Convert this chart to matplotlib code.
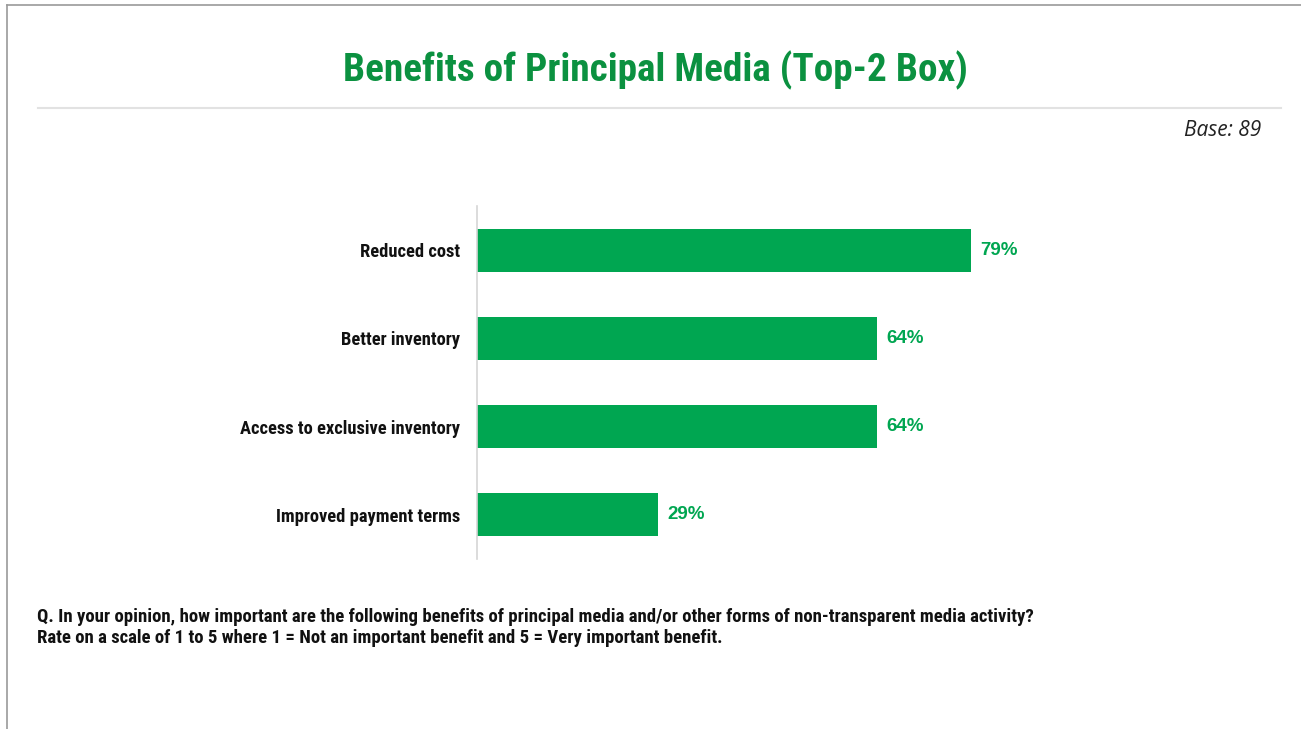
import matplotlib.pyplot as plt
from matplotlib import font_manager
from matplotlib.lines import Line2D

# Survey results
categories = ['Reduced cost', 'Better inventory', 'Access to exclusive inventory', 'Improved payment terms']
values = [79, 64, 64, 29]
title = 'Benefits of Principal Media (Top-2 Box)'
base_note = 'Base: 89'
question_lines = [
    'Q. In your opinion, how important are the following benefits of principal media and/or other forms of non-transparent media activity?',
    'Rate on a scale of 1 to 5 where 1 = Not an important benefit and 5 = Very important benefit.',
]

# pick a condensed family that ships a real bold face
bold_fonts = {f.name for f in font_manager.fontManager.ttflist
              if f.weight in (700, 'bold') and f.style == 'normal'}
narrow = 'DejaVu Sans'
for cand in ['Liberation Sans Narrow', 'Arial Narrow', 'Roboto Condensed', 'Archivo Narrow',
             'PT Sans Narrow', 'Fira Sans Condensed', 'IBM Plex Sans Condensed',
             'Barlow Semi Condensed', 'Saira SemiCondensed']:
    if cand in bold_fonts:
        narrow = cand
        break

BAR_GREEN = '#00a651'
TITLE_GREEN = '#0b9140'

W, H = 1301, 729
fig = plt.figure(figsize=(W / 100, H / 100), dpi=100)

# frame lines and title separator
fig.add_artist(Line2D([7 / W, 7 / W], [0, 1 - 5 / H], color='#9a9a9a', lw=1.2))
fig.add_artist(Line2D([7 / W, 1], [1 - 5 / H, 1 - 5 / H], color='#9a9a9a', lw=1.2))
fig.add_artist(Line2D([38 / W, 1281 / W], [1 - 108 / H, 1 - 108 / H], color='#e2e2e2', lw=1.5))

fig.text(655 / W, 1 - 70 / H, title, ha='center', va='center', fontsize=28.3,
         fontweight='bold', color=TITLE_GREEN, family=narrow)
fig.text(1261 / W, 1 - 131 / H, base_note, ha='right', va='center', fontsize=15,
         style='italic', color='#222222', family='Open Sans')

ax = fig.add_axes([477 / W, 1 - 559 / H, 625 / W, 353 / H])
y = range(len(categories))
ax.barh(y, values, height=0.49, color=BAR_GREEN, left=0)
ax.set_xlim(0, 100)
ax.set_ylim(len(categories) - 0.5, -0.5)
ax.set_yticks(list(y))
ax.set_yticklabels(categories, fontsize=13.3, fontweight='bold', family=narrow, color='#111111')
ax.tick_params(axis='y', length=0, pad=12)
ax.set_xticks([])
for side in ['top', 'right', 'bottom']:
    ax.spines[side].set_visible(False)
ax.spines['left'].set_color('#d6d6d6')
ax.spines['left'].set_linewidth(1.2)

for i, v in enumerate(values):
    ax.text(v + 1.45, i, f'{v}%', va='center', ha='left', fontsize=13.5,
            fontweight='bold', color=BAR_GREEN, family='Liberation Sans')

# question footnote, one text per line
for k, line in enumerate(question_lines):
    fig.text(37 / W, 1 - (617 + 21 * k) / H, line, ha='left', va='center', fontsize=13.5,
             fontweight='bold', color='#111111', family=narrow)

fig.savefig('out.png', dpi=100)
